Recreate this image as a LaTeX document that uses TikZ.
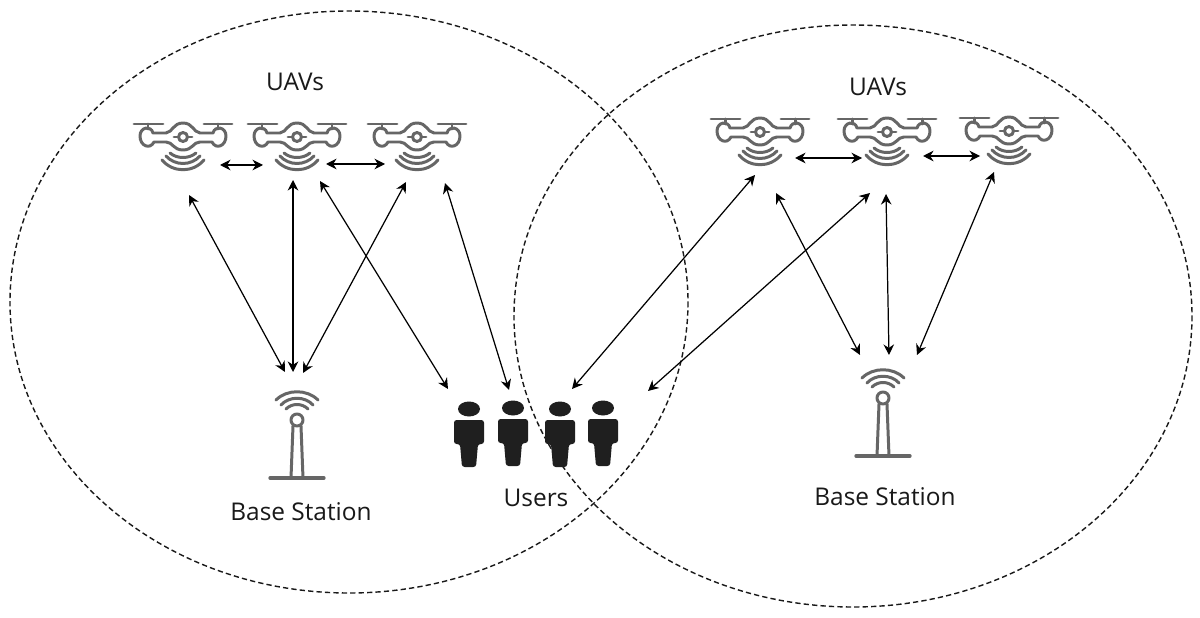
\documentclass[tikz,border=0pt]{standalone}
\usepackage{fontspec}
\setmainfont{Open Sans}
\usetikzlibrary{arrows.meta}
\tikzset{
 x=0.02cm,y=-0.02cm,
 zone/.style={draw=black!90,line width=0.8pt,dash pattern=on 3pt off 1.8pt},
 link/.style={draw=black,line width=0.7pt,{Stealth[length=6pt,width=6pt]}-{Stealth[length=6pt,width=6pt]}},
 caption/.style={font=\fontsize{13.9}{16}\selectfont,text=black!90,inner sep=0pt},
 iconline/.style={draw=black!60,line width=1.7pt,line cap=round,line join=round},
 dronepic/.pic={
  \draw[iconline] (-49,-13)--(-20,-13) (21,-13)--(49,-13) (-35,-13)--(-35,-8) (35,-13)--(35,-8);
  \draw[iconline] (-17,-4) .. controls (-10,-5) and (-10,-14) .. (0,-14) .. controls (10,-14) and (10,-5) .. (17,-4)
    -- (30,-4) .. controls (32,-12) and (43,-10) .. (43,-1) .. controls (43,9) and (33,13) .. (29,5)
    -- (17,5) .. controls (10,5) and (10,13) .. (0,13) .. controls (-10,13) and (-10,5) .. (-17,5)
    -- (-29,5) .. controls (-33,13) and (-43,9) .. (-43,-1) .. controls (-43,-10) and (-32,-12) .. (-30,-4) -- cycle;
  \draw[iconline] (0,0) circle[radius=4.5];
  \draw[iconline] (-9,0)--(-5,0) (5,0)--(9,0);
  \draw[iconline] (-13,16) .. controls (-6,22) and (6,22) .. (13,16);
  \draw[iconline] (-17,19) .. controls (-8,29) and (8,29) .. (17,19);
  \draw[iconline] (-21,23) .. controls (-10,36) and (10,36) .. (21,23);
 },
 towerpic/.pic={
  \draw[iconline] (0,0) circle[radius=6];
  \draw[iconline] (-4,6)--(-6,58) (4,6)--(6,58);
  \draw[iconline,line width=1.9pt] (-27,58)--(27,58);
  \draw[iconline] (-11,-11) .. controls (-5,-17) and (5,-17) .. (11,-11);
  \draw[iconline] (-16,-15) .. controls (-8,-24) and (8,-24) .. (16,-15);
  \draw[iconline] (-21,-20) .. controls (-10,-31) and (10,-31) .. (21,-20);
 },
 personpic/.pic={
  \fill[black!88] (0,0) ellipse[x radius=11,y radius=7.5];
  \fill[black!88,rounded corners=1.5pt] (-15,11) -- (15,11) -- (15,35) -- (9,35) -- (7,58) -- (-7,58) -- (-9,35) -- (-15,35) -- cycle;
 },
}
\begin{document}
\begin{tikzpicture}
\useasboundingbox (0,0) rectangle (1200,618);
\fill[white] (0,0) rectangle (1200,618);
\draw[zone] (349,302) ellipse[x radius=339,y radius=291];
\draw[zone] (853,316) ellipse[x radius=339,y radius=291];

\pic at (183,137) {dronepic};
\pic at (297,137) {dronepic};
\pic at (417,137) {dronepic};
\pic at (760,132) {dronepic};
\pic at (887,132) {dronepic};
\pic at (1009,131) {dronepic};
\pic at (297,420) {towerpic};
\pic at (883,398) {towerpic};
\pic at (469,409) {personpic};
\pic at (513,408) {personpic};
\pic at (560,409) {personpic};
\pic at (603,408) {personpic};

\node[caption] (uavl) at (295,82) {UAVs};
\node[caption] (uavr) at (878,87) {UAVs};
\node[caption] (bsl) at (301,512) {Base Station};
\node[caption] (bsr) at (885,497) {Base Station};
\node[caption] (users) at (536,498) {Users};

\foreach \n/\x/\y in {a1/220/165,a2/263/165,b1/326/164,b2/385/164,
 c1/189/195,c2/285/372,d1/293/180,d2/293/372,e1/406/182,e2/303/373,
 f1/320/181,f2/448/389,g1/445/183,g2/509/390,
 h1/755/175,h2/572/389,i1/870/193,i2/648/391,j1/776/193,j2/860/355,
 k1/886/194,k2/889/355,l1/994/172,l2/917/355,m1/795/158,m2/862/158,n1/923/156,n2/980/156}
 \coordinate (\n) at (\x,\y);
\foreach \p in {a,b,c,d,e,f,g,h,i,j,k,l,m,n}
 \draw[link] (\p1) -- (\p2);
\end{tikzpicture}
\end{document}
